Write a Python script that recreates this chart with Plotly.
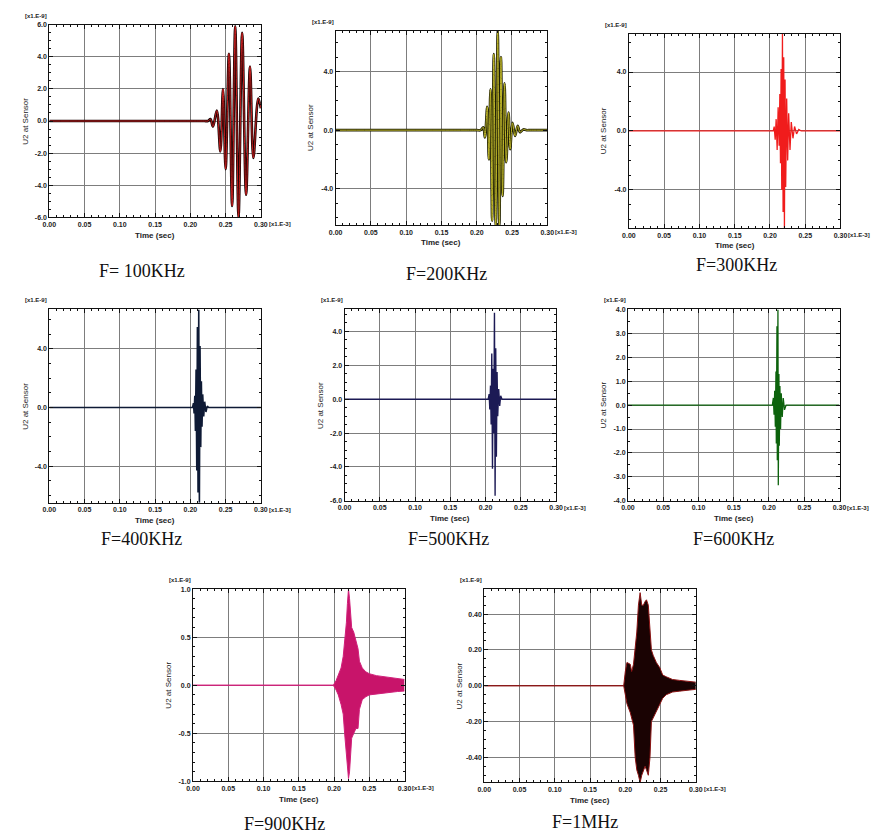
import plotly.graph_objects as go

# ------------------------------------------------------------------ data
T_TICKS = [0.0, 0.05, 0.10, 0.15, 0.20, 0.25, 0.30]
T_LABELS = ["0.00", "0.05", "0.10", "0.15", "0.20", "0.25", "0.30"]

captions = ["F= 100KHz", "F=200KHz", "F=300KHz", "F=400KHz",
            "F=500KHz", "F=600KHz", "F=900KHz", "F=1MHz"]

# F = 100 kHz (peaks, time in 1e-3 s, U2 in 1e-9)
t_100 = [0.0, 0.05, 0.10, 0.15, 0.20, 0.215, 0.220, 0.225, 0.2285, 0.2320, 0.2375,
         0.2425, 0.2463, 0.2500, 0.2547, 0.2592, 0.2636, 0.2683, 0.2734, 0.2790,
         0.2846, 0.2893, 0.2963, 0.3000]
u_100 = [0.0, 0.0, 0.0, 0.0, 0.0, 0.0, 0.0, 0.0, 0.12, -0.35, 0.65,
         -1.9, 2.0, -3.0, 4.2, -5.3, 5.9, -6.0, 5.5, -4.6,
         3.4, -2.3, 1.4, 0.8]

# F = 200 kHz
t_200 = [0.0, 0.05, 0.10, 0.15, 0.19, 0.200, 0.2056, 0.2093, 0.2116, 0.2149, 0.2172,
         0.2195, 0.2219, 0.2242, 0.2270, 0.2298, 0.2321, 0.2344, 0.2367, 0.2395,
         0.2419, 0.2451, 0.2474, 0.2507, 0.2544, 0.2581, 0.2614, 0.2660, 0.2707,
         0.2750, 0.2800, 0.2900, 0.3000]
u_200 = [0.0, 0.0, 0.0, 0.0, 0.0, 0.0, 0.0, 0.2, -0.5, 1.6, -2.0,
         2.8, -6.2, 5.2, -6.6, 6.8, -6.6, 5.0, -4.5, 3.2,
         -2.2, 1.2, -1.3, 0.5, -0.4, 0.3, -0.15, 0.05, 0.0,
         0.0, 0.0, 0.0, 0.0]

# F = 300 kHz
t_300 = [0.0, 0.2047, 0.2060, 0.2074, 0.2088, 0.2102, 0.2116, 0.2130, 0.2140,
         0.2149, 0.2158, 0.2167, 0.2177, 0.2186, 0.2195, 0.2205, 0.2214, 0.2223,
         0.2237, 0.2251, 0.2265, 0.2284, 0.2302, 0.2326, 0.2349, 0.2377, 0.2409,
         0.2442, 0.3000]
u_300 = [0.0, 0.0, 0.3, -0.6, 0.8, -1.3, 1.6, -1.0, 2.5,
         -2.2, 4.2, -4.0, 6.6, -5.5, 5.0, -6.6, 3.5, -3.8,
         2.2, -2.0, 1.2, -1.3, 0.6, -0.5, 0.3, -0.2, 0.1,
         0.0, 0.0]

# F = 400 kHz
t_400 = [0.0, 0.2030, 0.2044, 0.2053, 0.2063, 0.2072, 0.2081, 0.2091, 0.2100,
         0.2109, 0.2119, 0.2128, 0.2137, 0.2147, 0.2156, 0.2165, 0.2175, 0.2189,
         0.2203, 0.2221, 0.2240, 0.2259, 0.3000]
u_400 = [0.0, 0.0, 0.3, -0.4, 0.8, -1.6, 2.6, -4.3, 5.5,
         -5.8, 6.7, -6.5, 4.2, -2.7, 1.8, -1.3, 0.9, -0.6,
         0.4, -0.3, 0.1, 0.0, 0.0]

# F = 500 kHz
t_500 = [0.0, 0.2037, 0.2051, 0.2060, 0.2070, 0.2079, 0.2088, 0.2098, 0.2107,
         0.2116, 0.2126, 0.2135, 0.2144, 0.2153, 0.2163, 0.2172, 0.2186, 0.2200,
         0.2214, 0.2233, 0.3000]
u_500 = [0.0, 0.0, 0.3, -0.6, 0.8, -1.5, 2.7, -4.1, 1.8,
         -2.0, 5.1, -5.7, 3.0, -3.4, 1.6, -1.0, 0.6, -0.4,
         0.2, 0.0, 0.0]

# F = 600 kHz
t_600 = [0.0, 0.2048, 0.2062, 0.2072, 0.2081, 0.2090, 0.2099, 0.2104, 0.2113,
         0.2118, 0.2127, 0.2132, 0.2141, 0.2146, 0.2155, 0.2164, 0.2174, 0.2188,
         0.2202, 0.2220, 0.2243, 0.3000]
u_600 = [0.0, 0.0, 0.3, -0.4, 0.6, -0.9, 1.4, -1.6, 3.3,
         -2.3, 4.0, -3.35, 1.3, -1.7, 0.8, -1.0, 0.5, -0.5,
         0.3, -0.2, 0.0, 0.0]

# F = 900 kHz (envelope of the dense burst)
t_900 = [0.0, 0.199, 0.203, 0.206, 0.210, 0.213, 0.215, 0.2175, 0.219, 0.2205,
         0.222, 0.2235, 0.225, 0.228, 0.231, 0.234, 0.236, 0.240, 0.245, 0.250,
         0.260, 0.270, 0.280, 0.290, 0.300]
u_900_hi = [0.0, 0.0, 0.05, 0.10, 0.18, 0.30, 0.45, 0.65, 0.85, 1.0,
            0.90, 0.70, 0.60, 0.55, 0.45, 0.38, 0.25, 0.18, 0.14, 0.12,
            0.10, 0.09, 0.08, 0.07, 0.06]
u_900_lo = [0.0, 0.0, -0.05, -0.10, -0.20, -0.30, -0.50, -0.70, -0.85, -0.97,
            -0.90, -0.75, -0.55, -0.50, -0.45, -0.45, -0.25, -0.15, -0.12, -0.10,
            -0.09, -0.08, -0.07, -0.065, -0.06]

# F = 1 MHz (envelope of the dense burst)
t_1m = [0.0, 0.1977, 0.200, 0.2023, 0.207, 0.209, 0.2116, 0.214, 0.2163, 0.2186,
        0.221, 0.2233, 0.2256, 0.228, 0.230, 0.2326, 0.235, 0.237, 0.2395, 0.244,
        0.249, 0.253, 0.258, 0.267, 0.277, 0.290, 0.300]
u_1m_hi = [0.0, 0.0, 0.08, 0.13, 0.12, 0.08, 0.12, 0.20, 0.30, 0.45,
           0.52, 0.45, 0.45, 0.47, 0.48, 0.45, 0.30, 0.20, 0.17, 0.13,
           0.10, 0.06, 0.05, 0.035, 0.03, 0.025, 0.02]
u_1m_lo = [0.0, 0.0, -0.05, -0.10, -0.15, -0.18, -0.22, -0.40, -0.47, -0.50,
           -0.54, -0.50, -0.48, -0.45, -0.47, -0.50, -0.40, -0.20, -0.18, -0.14,
           -0.10, -0.07, -0.05, -0.035, -0.03, -0.025, -0.02]

yticks = [
    [-6, -4, -2, 0, 2, 4, 6],
    [-4, 0, 4],
    [-4, 0, 4],
    [-4, 0, 4],
    [-6, -4, -2, 0, 2, 4],
    [-4, -3, -2, -1, 0, 1, 2, 3, 4],
    [-1.0, -0.5, 0.0, 0.5, 1.0],
    [-0.4, -0.2, 0.0, 0.2, 0.4],
]
yfmt = [".1f", ".1f", ".1f", ".1f", ".1f", ".1f", ".1f", ".2f"]
yranges = [(-6, 6), (-6.5, 6.8), (-6.6, 6.6), (-6.5, 6.7), (-6, 5.3), (-4, 4), (-1, 1), (-0.54, 0.54)]

# ------------------------------------------------------------------ layout
W, H = 878, 837
boxes = [(43, 21, 258, 215), (334, 27, 549, 223), (632, 30, 847, 226),
         (43, 308, 258, 503), (343, 308, 558, 501), (631, 308, 846, 501),
         (189, 590, 404, 784), (485, 590, 700, 785)]
cap_pos = [(137, 269), (447, 272), (741, 263), (137, 540), (449, 540), (738, 540), (282, 827), (587, 825)]

def px(x):
    return x / W

def py(y):
    return 1 - y / H

fig = go.Figure()
layout = dict(width=W, height=H, margin=dict(l=0, r=0, t=0, b=0),
              paper_bgcolor="white", plot_bgcolor="white", showlegend=False)
annotations = []
TICKFONT = dict(family="Liberation Sans", size=7, color="#222", weight="bold")
LBLFONT = dict(family="Liberation Sans", size=8, color="#222")
GRID = "#7d7d7d"

for i, (l, t, r, b) in enumerate(boxes):
    k = "" if i == 0 else str(i + 1)
    xa, ya = "x" + k, "y" + k
    layout["xaxis" + k] = dict(
        domain=[px(l), px(r)], anchor=ya, range=[0, 0.30],
        tickvals=T_TICKS, ticktext=T_LABELS, tickfont=TICKFONT,
        showgrid=True, gridcolor=GRID, gridwidth=1,
        showline=True, linecolor="#111", linewidth=1, mirror="allticks",
        ticks="inside", ticklen=4, tickcolor="#111", zeroline=False,
        minor=dict(ticks="inside", ticklen=2, dtick=0.01, tickcolor="#111", showgrid=False),
    )
    layout["yaxis" + k] = dict(
        domain=[py(b), py(t)], anchor=xa, range=list(yranges[i]),
        tickvals=yticks[i], ticktext=[format(v, yfmt[i]) for v in yticks[i]], tickfont=TICKFONT,
        showgrid=True, gridcolor=GRID, gridwidth=1,
        showline=True, linecolor="#111", linewidth=1, mirror="allticks",
        ticks="inside", ticklen=4, tickcolor="#111", zeroline=False,
        minor=dict(ticks="inside", ticklen=2, nticks=5, tickcolor="#111", showgrid=False),
    )
    cx = (l + r) / 2
    common = dict(xref="paper", yref="paper", showarrow=False, yanchor="middle")
    annotations += [
        dict(text="<b>Time (sec)</b>", x=px(cx), y=py(b + 18), xanchor="center", font=LBLFONT, **common),
        dict(text="U2 at Sensor", x=px(l - 25), y=py((t + b) / 2), xanchor="center",
             textangle=-90, font=LBLFONT, **common),
        dict(text="[x1.E-9]", x=px(l), y=py(t - 9), xanchor="right",
             font=dict(family="Liberation Sans", size=6, color="#222", weight="bold"), **common),
        dict(text="[x1.E-3]", x=px(r + 6), y=py(b + 7), xanchor="left",
             font=dict(family="Liberation Sans", size=6, color="#222", weight="bold"), **common),
        dict(text=captions[i], x=px(cap_pos[i][0]), y=py(cap_pos[i][1]), xanchor="center",
             font=dict(family="Liberation Serif", size=18, color="#111"), **common),
    ]

def line(x, y, i, color, width, shape="linear"):
    k = "" if i == 0 else str(i + 1)
    fig.add_trace(go.Scatter(x=x, y=y, mode="lines", xaxis="x" + k, yaxis="y" + k,
                             line=dict(color=color, width=width, shape=shape), hoverinfo="skip"))

def band(x, hi, lo, i, color, edge):
    k = "" if i == 0 else str(i + 1)
    fig.add_trace(go.Scatter(x=x, y=hi, mode="lines", xaxis="x" + k, yaxis="y" + k,
                             line=dict(color=edge, width=1), hoverinfo="skip"))
    fig.add_trace(go.Scatter(x=x, y=lo, mode="lines", xaxis="x" + k, yaxis="y" + k,
                             line=dict(color=edge, width=1), fill="tonexty", fillcolor=color,
                             hoverinfo="skip"))

line(t_100, u_100, 0, "#1a0505", 2.6, "spline")
line(t_100, u_100, 0, "#d42020", 0.9, "spline")
line(t_200, u_200, 1, "#1e1e05", 2.6, "spline")
line(t_200, u_200, 1, "#bdb52a", 1.0, "spline")
line(t_300, u_300, 2, "#f01c1c", 1.3)
line(t_400, u_400, 3, "#0e1a35", 1.6)
line(t_500, u_500, 4, "#1c1a55", 1.4)
line(t_600, u_600, 5, "#0c620c", 1.3)
band(t_900, u_900_hi, u_900_lo, 6, "#c8146a", "#d0207a")
band(t_1m, u_1m_hi, u_1m_lo, 7, "#1a0303", "#8b1414")

layout["annotations"] = annotations
fig.update_layout(**layout)
fig.write_html("out.html")
